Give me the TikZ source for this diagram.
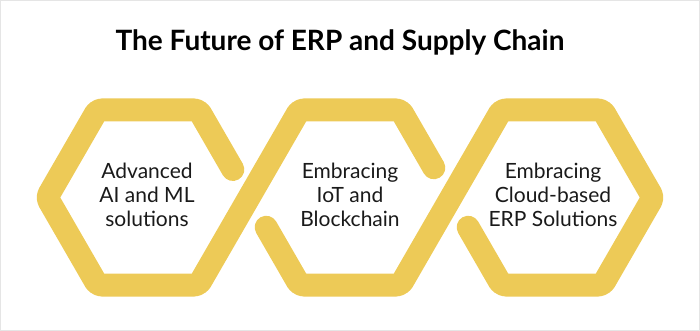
\documentclass[tikz,border=0pt]{standalone}
\usepackage{fontspec}
\setmainfont{Lato}
\usepackage{tikz}
\usetikzlibrary{calc}
\definecolor{hexyellow}{HTML}{EDCA57}
\definecolor{inkgray}{HTML}{1A1A1A}

\begin{document}
\begin{tikzpicture}[
  x=1pt, y=-1pt,
  band/.style = {draw=hexyellow, line width=23pt, line cap=round, line join=round, rounded corners=4pt},
  txt/.style = {align=center, text=inkgray, font=\fontsize{21}{24}\selectfont},
  heading/.style = {text=black, font=\bfseries\fontsize{28}{32}\selectfont}
]
\useasboundingbox (0,0) rectangle (700,331);
\draw[gray!20, line width=1pt] (0.5,0.5) rectangle (699.5,330.5);

% hexagon corners
\foreach \i/\cx in {1/148,2/350,3/552} {
  \coordinate (L\i) at (\cx-101,197.5);
  \coordinate (TL\i) at (\cx-50.5,110);
  \coordinate (TR\i) at (\cx+50.5,110);
  \coordinate (R\i) at (\cx+101,197.5);
  \coordinate (BR\i) at (\cx+50.5,285);
  \coordinate (BL\i) at (\cx-50.5,285);
}

% two bands
\draw[band] ($(TR1)!0.68!(R1)$) -- (TR1) -- (TL1) -- (L1) -- (BL1) -- (BR1) -- (TL2) -- (TR2) -- ($(TR2)!0.66!(R2)$);
\draw[band] ($(L2)!0.34!(BL2)$) -- (BL2) -- (BR2) -- (TL3) -- (TR3) -- (R3) -- (BR3) -- (BL3) -- ($(L3)!0.34!(BL3)$);

\node[heading] (title) at (340,42) {The Future of ERP and Supply Chain};
\node[txt] (ai) at (147,195) {Advanced\\AI and ML\\solutions};
\node[txt] (iot) at (350,195) {Embracing\\IoT and\\Blockchain};
\node[txt] (cloud) at (553,195) {Embracing\\Cloud-based\\ERP Solutions};
\end{tikzpicture}
\end{document}
